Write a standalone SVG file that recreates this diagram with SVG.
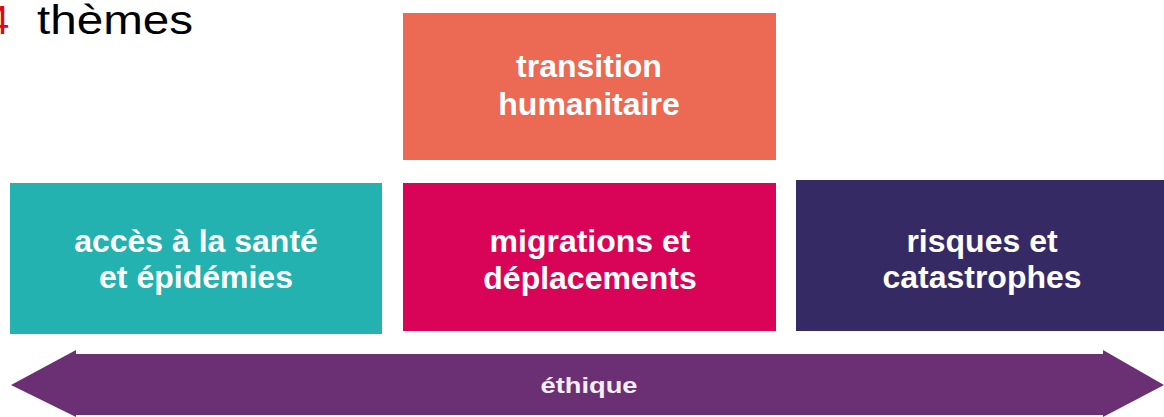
<svg xmlns="http://www.w3.org/2000/svg" width="1164" height="417" viewBox="0 0 1164 417">
<style>
.lbl{font-family:"Liberation Sans",Arial,sans-serif;font-weight:bold;font-size:32px;fill:#ffffff;text-anchor:middle}
.title{font-family:"Liberation Sans",Arial,sans-serif;font-size:40px;fill:#000000}
</style>
<rect width="1164" height="417" fill="#ffffff"/>
<text class="title" x="-13" y="34" style="fill:#e30613">4</text>
<text class="title" x="37" y="34" textLength="156" lengthAdjust="spacingAndGlyphs">thèmes</text>
<g id="connectors">
  <path d="M11,385 L76,350 L76,354 L1103,354 L1103,350 L1164,385 L1103,417 L1103,415 L76,415 L76,417 Z" fill="#6b2f74"/>
  <text x="589" y="393" font-family="Liberation Sans, Arial, sans-serif" font-weight="bold" font-size="22" fill="#f3eef5" text-anchor="middle" textLength="97" lengthAdjust="spacingAndGlyphs">éthique</text>
</g>
<g id="transition">
  <rect x="403" y="13" width="373" height="147" fill="#ec6a53"/>
  <text class="lbl" x="589" y="77">transition</text>
  <text class="lbl" x="589" y="115">humanitaire</text>
</g>
<g id="sante">
  <rect x="10" y="183" width="372" height="151" fill="#24b2b1"/>
  <text class="lbl" x="196" y="252">accès à la santé</text>
  <text class="lbl" x="196" y="288">et épidémies</text>
</g>
<g id="migrations">
  <rect x="403" y="183" width="373" height="148" fill="#d90457"/>
  <text class="lbl" x="590" y="252">migrations et</text>
  <text class="lbl" x="590" y="289">déplacements</text>
</g>
<g id="risques">
  <rect x="796" y="180" width="368" height="151" fill="#352a64"/>
  <text class="lbl" x="982" y="252">risques et</text>
  <text class="lbl" x="982" y="288">catastrophes</text>
</g>
</svg>
